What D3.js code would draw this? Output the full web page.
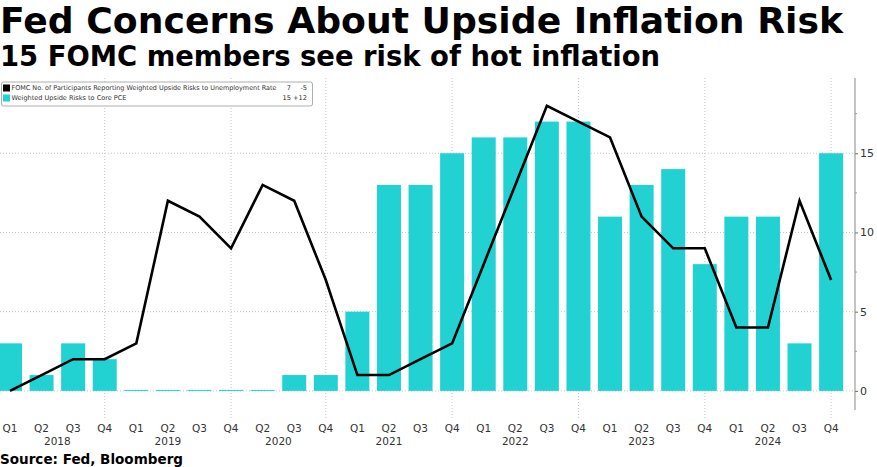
<!DOCTYPE html>
<html><head><meta charset="utf-8">
<script src="https://cdn.jsdelivr.net/npm/d3@7"></script>
<style>html,body{margin:0;padding:0;background:#fff;}svg{display:block;}</style>
</head><body><svg id="c" width="877" height="467"></svg>
<script>
const categories = ["2018 Q1","2018 Q2","2018 Q3","2018 Q4","2019 Q1","2019 Q2","2019 Q3","2019 Q4","2020 Q2","2020 Q3","2020 Q4","2021 Q1","2021 Q2","2021 Q3","2021 Q4","2022 Q1","2022 Q2","2022 Q3","2022 Q4","2023 Q1","2023 Q2","2023 Q3","2023 Q4","2024 Q1","2024 Q2","2024 Q3","2024 Q4"];
const pceUpside = [3,1,3,2,0,0,0,0,0,1,1,5,13,13,15,16,16,17,17,11,13,14,8,11,11,3,15];
const unempUpside = [0,1,2,2,3,12,11,9,13,12,7,1,1,2,3,8,13,18,17,16,11,9,9,4,4,12,7];
const yTicks = [0,5,10,15];
const yMinorTicks = [2.5,7.5,12.5,17.5];
const yearLabels = [["2018","2018 Q2",0.5],["2019","2019 Q2",0],["2020","2020 Q2",0.5],["2021","2021 Q2",0],["2022","2022 Q2",0],["2023","2023 Q2",0],["2024","2024 Q2",0]];
const legendRows = [
  {name:"FOMC No. of Participants Reporting Weighted Upside Risks to Unemployment Rate", last:"7", chg:"-5", color:"#000"},
  {name:"Weighted Upside Risks to Core PCE", last:"15", chg:"+12", color:"#22d2d2"}
];
const barColor = "#22d2d2";

const svg = d3.select("#c");
const font = "'DejaVu Sans', Verdana, sans-serif";

function fit(sel, w){ sel.attr("textLength", w).attr("lengthAdjust","spacingAndGlyphs"); return sel; }

// titles
fit(svg.append("text").attr("x",0).attr("y",33).attr("font-family",font).attr("font-weight","bold")
  .attr("font-size",35).attr("fill","#000").text("Fed Concerns About Upside Inflation Risk"), 843);
fit(svg.append("text").attr("x",0).attr("y",66).attr("font-family",font).attr("font-weight","bold")
  .attr("font-size",28).attr("fill","#000").text("15 FOMC members see risk of hot inflation"), 660);
fit(svg.append("text").attr("x",0).attr("y",464).attr("font-family",font).attr("font-weight","bold")
  .attr("font-size",14).attr("fill","#000").text("Source: Fed, Bloomberg"), 183);

const x = d3.scaleBand().domain(categories).range([-5.8, 846.9]).paddingInner(0.24).paddingOuter(0.12);
const y = d3.scaleLinear().domain([-1.08, 19.75]).range([408, 78]);
const axisX = 855;
const cx = c => x(c) + x.bandwidth()/2;

// gridlines
const grid = svg.append("g");
grid.selectAll("line.h").data(yTicks).join("line")
  .attr("x1",0).attr("x2",axisX).attr("y1",d=>y(d)).attr("y2",d=>y(d))
  .attr("stroke","#c4c4c4").attr("stroke-width",1).attr("stroke-dasharray","1,2");
grid.selectAll("line.v").data(categories.filter(c=>c.endsWith("Q4"))).join("line")
  .attr("x1",d=>cx(d)).attr("x2",d=>cx(d)).attr("y1",78).attr("y2",420)
  .attr("stroke","#c4c4c4").attr("stroke-width",1).attr("stroke-dasharray","1,2");

// clip
svg.append("clipPath").attr("id","pc").append("rect").attr("x",0).attr("y",70).attr("width",axisX).attr("height",340);
const plot = svg.append("g").attr("clip-path","url(#pc)");

plot.selectAll("rect.bar").data(categories).join("rect")
  .attr("x",d=>x(d)).attr("width",x.bandwidth())
  .attr("y",(d,i)=>Math.min(y(pceUpside[i]), y(0)-1))
  .attr("height",(d,i)=>Math.max(1, y(0)-y(pceUpside[i])))
  .attr("fill",barColor);

const line = d3.line().x((d,i)=>cx(categories[i])).y(d=>y(d));
plot.append("path").datum(unempUpside).attr("d",line).attr("fill","none")
  .attr("stroke","#000").attr("stroke-width",2.6).attr("stroke-linejoin","miter");

// right axis
const yAxis = d3.axisRight(y).tickValues(yTicks).tickSize(3).tickPadding(2);
const ag = svg.append("g").attr("transform",`translate(${axisX},0)`).call(yAxis);
ag.select(".domain").remove();
ag.append("line").attr("x1",0).attr("x2",0).attr("y1",78).attr("y2",410).attr("stroke","#888");
ag.selectAll(".tick line").attr("stroke","#666");
ag.selectAll(".tick text").attr("font-family",font).attr("font-size",11).attr("fill","#333");
ag.selectAll("line.minor").data(yMinorTicks).join("line").attr("class","minor")
  .attr("x1",0).attr("x2",2).attr("y1",d=>y(d)).attr("y2",d=>y(d)).attr("stroke","#999");

// x labels
const xl = svg.append("g").attr("font-family",font).attr("font-size",10.5).attr("fill","#333").attr("text-anchor","middle");
xl.selectAll("text.q").data(categories).join("text")
  .attr("x",d=>cx(d)).attr("y",432).text(d=>d.split(" ")[1]);
xl.selectAll("text.yr").data(yearLabels).join("text")
  .attr("x",d=>cx(d[1]) + d[2]*x.step()).attr("y",445).text(d=>d[0]);

// legend
const lg = svg.append("g").attr("font-family",font).attr("font-size",6.6).attr("fill","#333");
lg.append("rect").attr("x",1.5).attr("y",82).attr("width",311).attr("height",24).attr("rx",2)
  .attr("fill","#fff").attr("stroke","#999").attr("stroke-width",0.8);
legendRows.forEach((r,i)=>{
  const yy = 88 + i*10;
  lg.append("rect").attr("x",3).attr("y",yy-3.5).attr("width",7).attr("height",7).attr("fill",r.color);
  fit(lg.append("text").attr("x",11.5).attr("y",yy+2.3).text(r.name), i===0 ? 265 : 115);
  lg.append("text").attr("x",291).attr("y",yy+2.3).attr("text-anchor","end").text(r.last);
  lg.append("text").attr("x",307).attr("y",yy+2.3).attr("text-anchor","end").text(r.chg);
});
</script></body></html>
